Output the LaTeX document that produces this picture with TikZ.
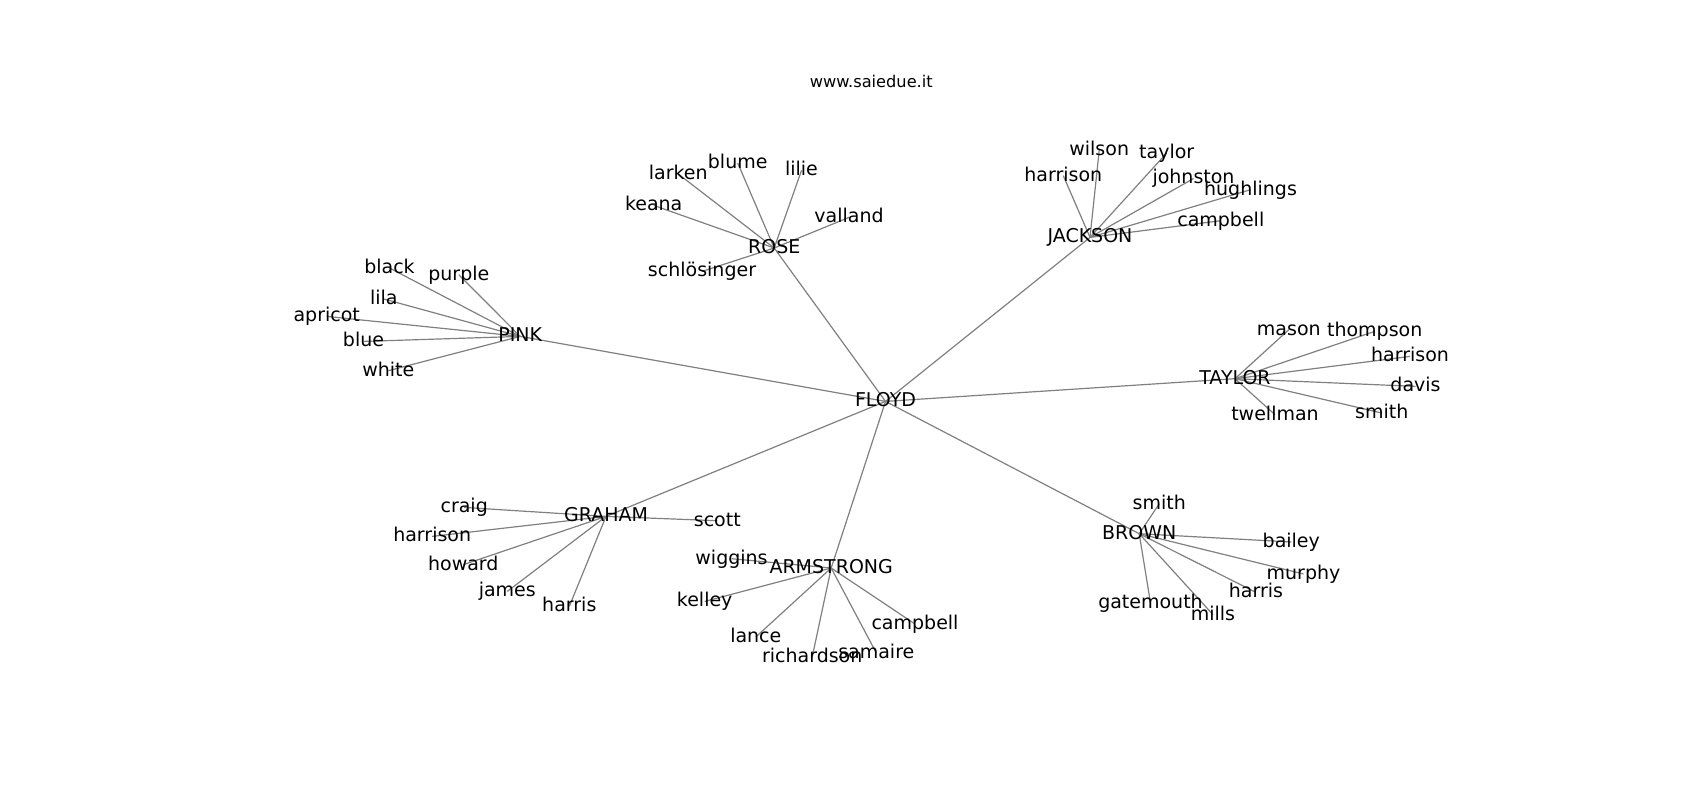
\documentclass[tikz,border=0pt]{standalone}
\usepackage{fontspec}
\setmainfont{DejaVu Sans}
\definecolor{edgegray}{RGB}{128,128,128}
\tikzset{
  lbl/.style={anchor=base,inner sep=0pt,font=\fontsize{19}{22}\selectfont,text=black},
  ttl/.style={anchor=base,inner sep=0pt,font=\fontsize{16.2}{19}\selectfont,text=black},
  edge/.style={draw=edgegray,line width=1.2pt}
}
\newcommand\gnode[4]{\coordinate (#1) at (#2,#3);}
\begin{document}
\begin{tikzpicture}[x=1pt,y=-1pt]
\useasboundingbox (0,0) rectangle (1700,800);
\fill[white] (0,0) rectangle (1700,800);
% node positions
\coordinate (floyd) at (885.5,401.4);
\coordinate (rose) at (774.2,248);
\coordinate (larken) at (678.3,174);
\coordinate (blume) at (737.7,163);
\coordinate (lilie) at (801.5,170.4);
\coordinate (keana) at (653.7,205.4);
\coordinate (valland) at (849,217.4);
\coordinate (schlosinger) at (702,271.4);
\coordinate (jackson) at (1090,237.4);
\coordinate (wilson) at (1099.2,150.4);
\coordinate (taylorj) at (1166.7,153);
\coordinate (harrisonj) at (1063.3,175.7);
\coordinate (johnston) at (1193.5,178.5);
\coordinate (hughlings) at (1250.5,189.7);
\coordinate (campbellj) at (1220.8,220.7);
\coordinate (pink) at (520.2,336.4);
\coordinate (black) at (389.5,268);
\coordinate (purple) at (458.8,274.7);
\coordinate (lila) at (383.8,299);
\coordinate (apricot) at (326.7,316.4);
\coordinate (blue) at (363.5,341.4);
\coordinate (white) at (388.3,370.7);
\coordinate (taylor) at (1235,378.7);
\coordinate (mason) at (1288.8,329.7);
\coordinate (thompson) at (1374.7,331.4);
\coordinate (harrisont) at (1410,356.4);
\coordinate (davis) at (1415.5,386.4);
\coordinate (smitht) at (1381.7,413);
\coordinate (twellman) at (1275,414.7);
\coordinate (brown) at (1139.2,533.7);
\coordinate (smithb) at (1159.3,503.7);
\coordinate (bailey) at (1291.3,542);
\coordinate (murphy) at (1303.5,574);
\coordinate (harrisb) at (1256,592.4);
\coordinate (gatemouth) at (1150.5,603);
\coordinate (mills) at (1213,614.7);
\coordinate (armstrong) at (831.2,568);
\coordinate (wiggins) at (731.5,558.7);
\coordinate (kelley) at (704.7,601.4);
\coordinate (lance) at (755.8,637);
\coordinate (richardson) at (812.2,657);
\coordinate (samaire) at (876.3,653);
\coordinate (campbella) at (915,624);
\coordinate (graham) at (606,516.4);
\coordinate (scott) at (717.3,520.7);
\coordinate (craig) at (464.2,507.4);
\coordinate (harrisong) at (432.2,536.4);
\coordinate (howard) at (463.3,564.7);
\coordinate (james) at (507.3,591.4);
\coordinate (harrisg) at (569.3,606.4);
% edges
\foreach \a/\b in {floyd/rose,floyd/jackson,floyd/pink,floyd/taylor,floyd/brown,floyd/armstrong,floyd/graham,
  rose/larken,rose/blume,rose/lilie,rose/keana,rose/valland,rose/schlosinger,
  jackson/wilson,jackson/taylorj,jackson/harrisonj,jackson/johnston,jackson/hughlings,jackson/campbellj,
  pink/black,pink/purple,pink/lila,pink/apricot,pink/blue,pink/white,
  taylor/mason,taylor/thompson,taylor/harrisont,taylor/davis,taylor/smitht,taylor/twellman,
  brown/smithb,brown/bailey,brown/murphy,brown/harrisb,brown/gatemouth,brown/mills,
  armstrong/wiggins,armstrong/kelley,armstrong/lance,armstrong/richardson,armstrong/samaire,armstrong/campbella,
  graham/scott,graham/craig,graham/harrisong,graham/howard,graham/james,graham/harrisg}
  {\draw[edge] (\a) -- (\b);}
% labels
\foreach \n/\t in {floyd/FLOYD,rose/ROSE,larken/larken,blume/blume,lilie/lilie,keana/keana,valland/valland,schlosinger/schlösinger,
  jackson/JACKSON,wilson/wilson,taylorj/taylor,harrisonj/harrison,johnston/johnston,hughlings/hughlings,campbellj/campbell,
  pink/PINK,black/black,purple/purple,lila/lila,apricot/apricot,blue/blue,white/white,
  taylor/TAYLOR,mason/mason,thompson/thompson,harrisont/harrison,davis/davis,smitht/smith,twellman/twellman,
  brown/BROWN,smithb/smith,bailey/bailey,murphy/murphy,harrisb/harris,gatemouth/gatemouth,mills/mills,
  armstrong/ARMSTRONG,wiggins/wiggins,kelley/kelley,lance/lance,richardson/richardson,samaire/samaire,campbella/campbell,
  graham/GRAHAM,scott/scott,craig/craig,harrisong/harrison,howard/howard,james/james,harrisg/harris}
  {\node[lbl] (\n-label) at ([yshift=-5.3pt]\n) {\t};}
\node[ttl] (title) at (871.3,87.3) {www.saiedue.it};
\end{tikzpicture}
\end{document}
